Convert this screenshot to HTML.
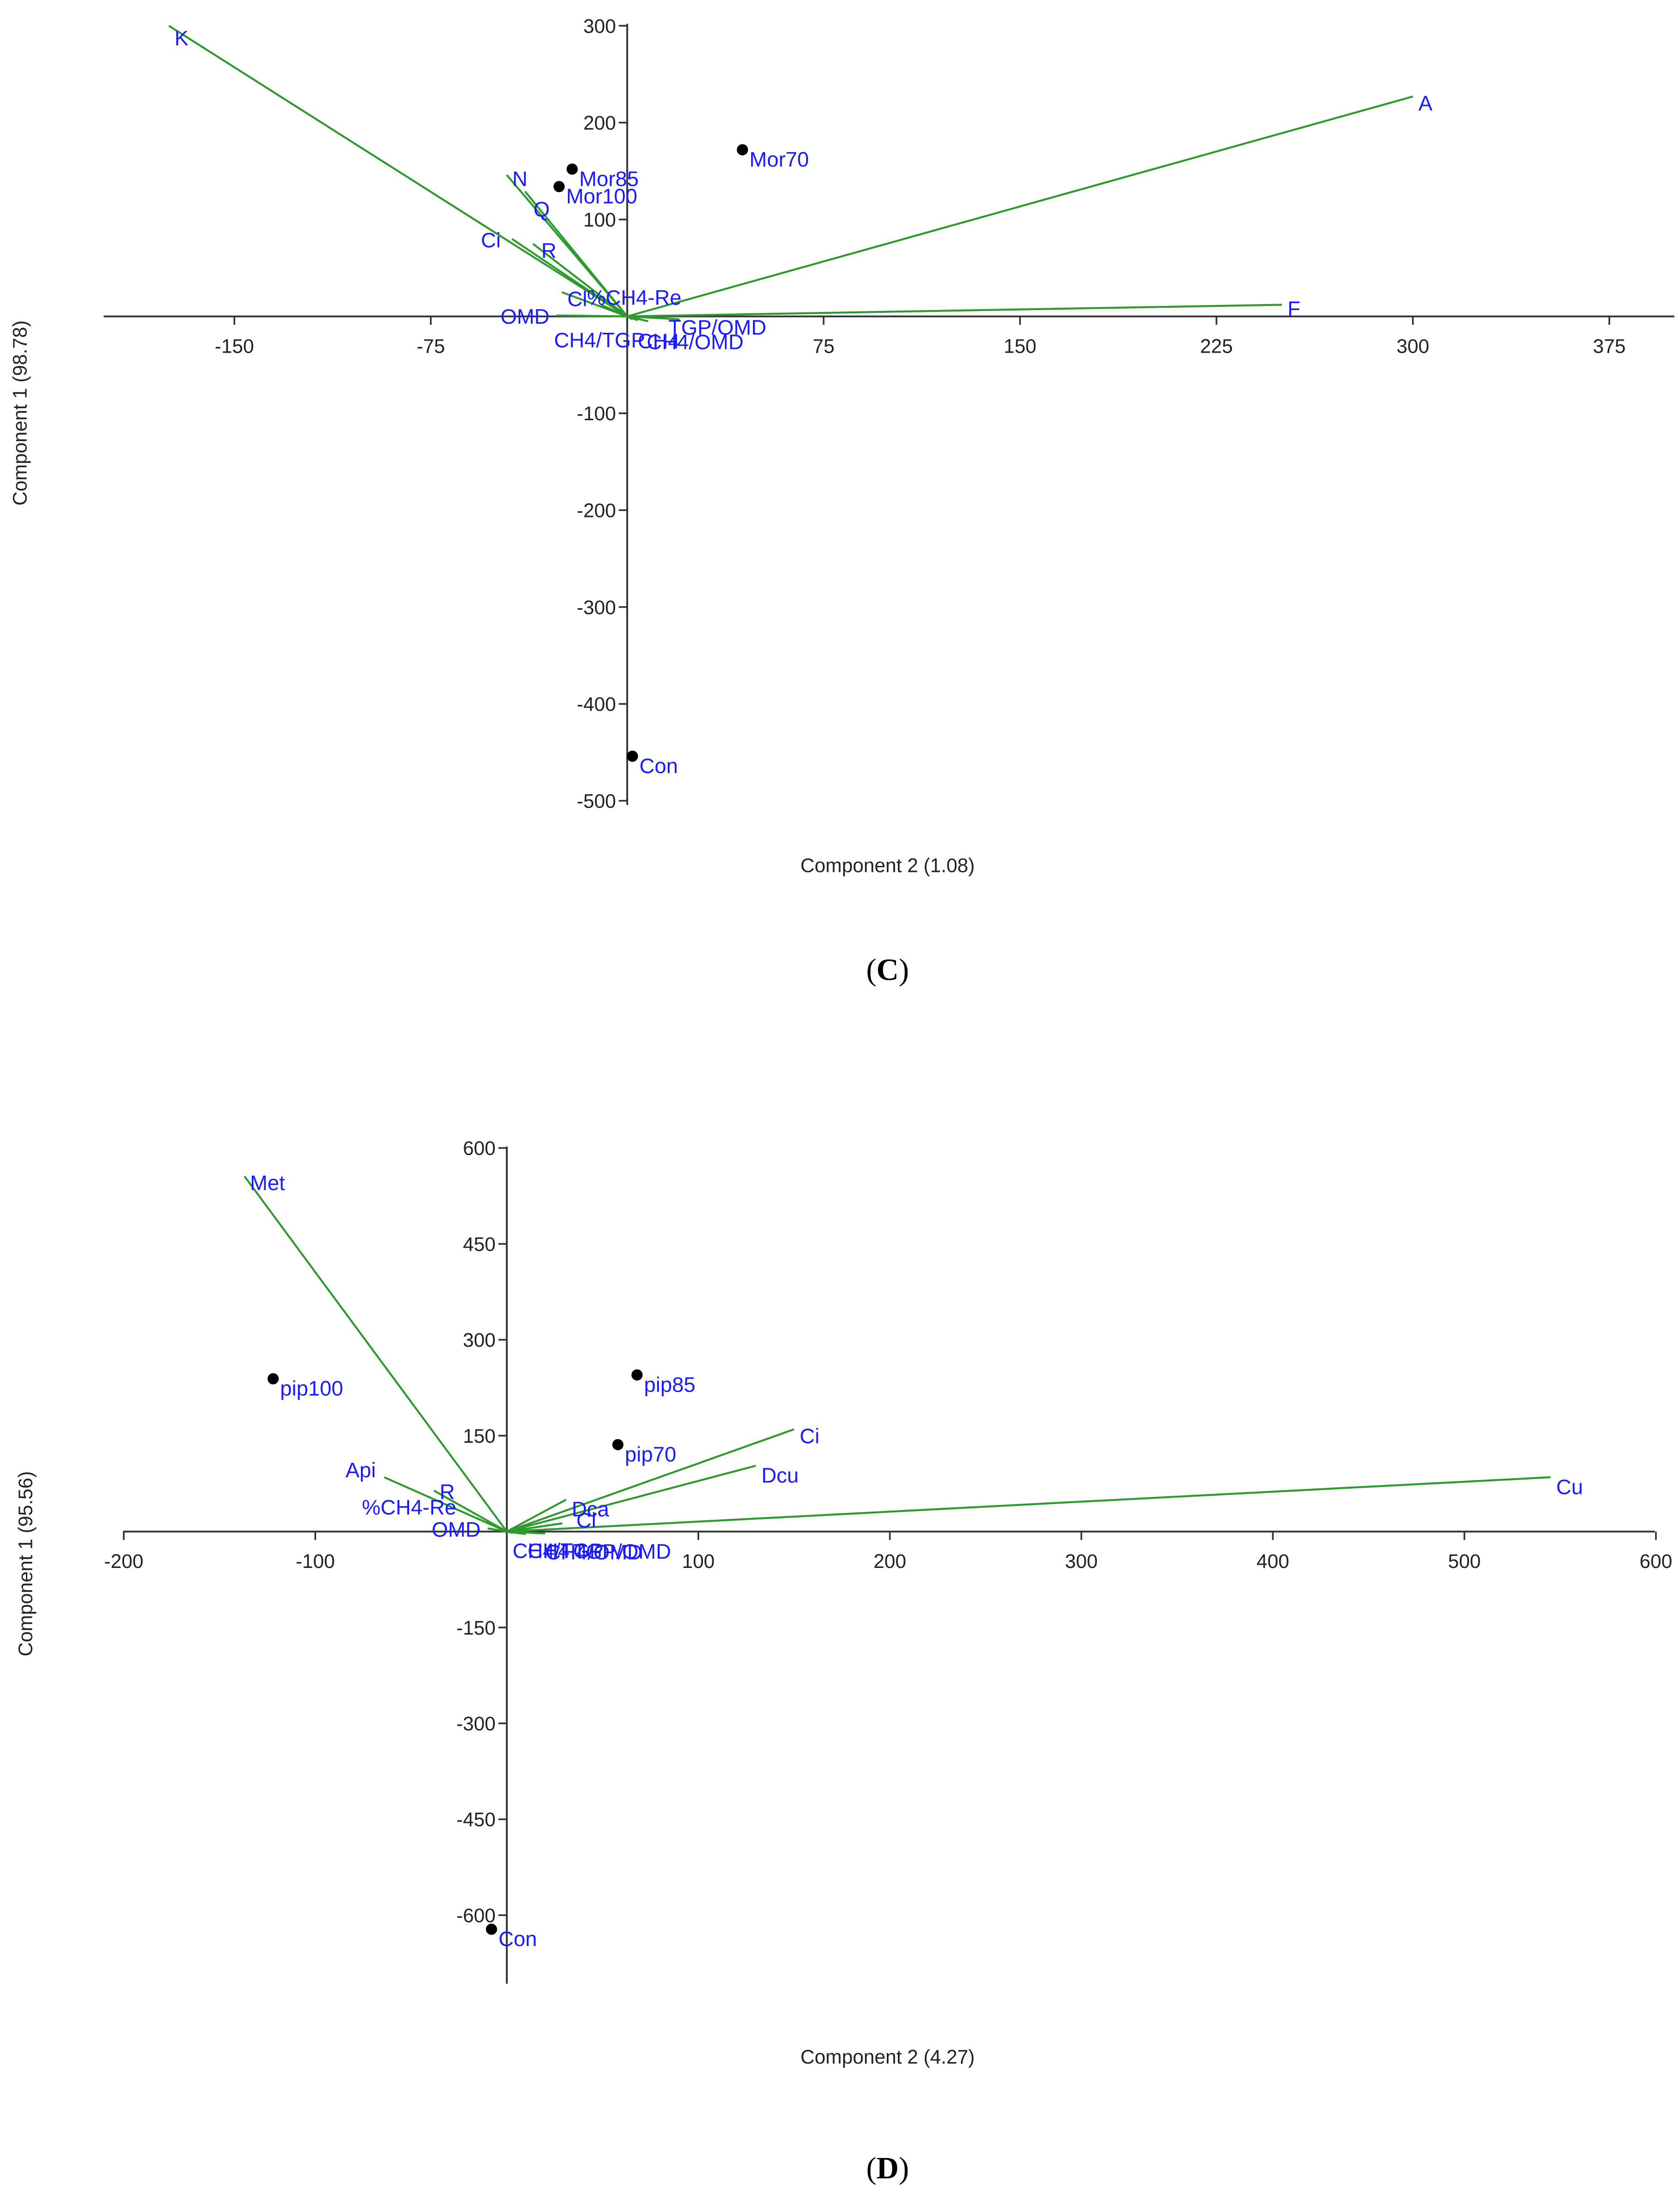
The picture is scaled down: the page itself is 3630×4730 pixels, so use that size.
<!DOCTYPE html>
<html><head><meta charset="utf-8"><style>
html,body{margin:0;padding:0;background:#fff;}
svg{display:block;}
text{font-family:"Liberation Sans",sans-serif;}
</style></head>
<body>
<svg id="fig" width="3630" height="4730" viewBox="0 0 1200 1563.6" preserveAspectRatio="none" xmlns="http://www.w3.org/2000/svg">
<g id="chartC"></g>
<g id="chartD"></g>
<text x="634" y="700" text-anchor="middle" font-size="22" style="font-family:'Liberation Serif',serif">(<tspan font-weight="bold">C</tspan>)</text>
<text x="634" y="1556" text-anchor="middle" font-size="22" style="font-family:'Liberation Serif',serif">(<tspan font-weight="bold">D</tspan>)</text>
</svg>
<script>
// ---- Chart C data ----
const cXTicks = [-150, -75, 75, 150, 225, 300, 375];
const cYTicks = [300, 200, 100, -100, -200, -300, -400, -500];
const cVarNames = ["K", "A", "F", "N", "Q", "Ci", "R", "Cl", "%CH4-Re", "OMD", "TGP/OMD", "CH4/OMD", "CH4/TGP", "CH4"];
const cVarX = [-175, 300, 250, -46, -39, -44, -36, -25, -10, -27, 20, 8, 2, 4];
const cVarY = [300, 227, 12, 146, 129, 80, 75, 25, 12, 1, -3, -5, -3, -4];
const cObsNames = ["Mor70", "Mor85", "Mor100", "Con"];
const cObsX = [44, -21, -26, 2];
const cObsY = [172, 152, 134, -454];
// ---- Chart D data ----
const dXTicks = [-200, -100, 100, 200, 300, 400, 500, 600];
const dYTicks = [600, 450, 300, 150, -150, -300, -450, -600];
const dVarNames = ["Met", "Api", "R", "%CH4-Re", "OMD", "Ci", "Dcu", "Cu", "Dca", "Cl", "CH4/TGP", "TGP/OMD", "CH4", "CH4/OMD"];
const dVarX = [-137, -64, -38, -15, -10, 150, 130, 545, 31, 29, 3, 20, 5, 10];
const dVarY = [556, 85, 64, 20, 5, 160, 103, 85, 50, 13, -2, -3, -2, -4];
const dObsNames = ["pip100", "pip85", "pip70", "Con"];
const dObsX = [-122, 68, 58, -8];
const dObsY = [239, 245, 136, -622];

// label placement (style, not data): [dx, dy, anchor] per loading label
const cLabelPos = [[4,14,"start"],[4,10,"start"],[4,8,"start"],[4,8,"start"],[6,18,"start"],[-8,6,"end"],[6,10,"start"],[4,10,"start"],[-10,0,"start"],[-5,6,"end"],[-8,11,"start"],[-1,20,"start"],[-56,20,"start"],[0,20,"start"]];
const dLabelPos = [[4,10,"start"],[-6,0,"end"],[4,6,"start"],[-83,-3,"start"],[-5,6,"end"],[4,10,"start"],[4,12,"start"],[4,12,"start"],[4,12,"start"],[10,3,"start"],[0,18,"start"],[20,18,"start"],[8,18,"start"],[14,18,"start"]];

const NS = "http://www.w3.org/2000/svg";
function mk(parent, tag, attrs, txt){
  const e = document.createElementNS(NS, tag);
  for (const k in attrs) e.setAttribute(k, attrs[k]);
  if (txt !== undefined) e.textContent = txt;
  parent.appendChild(e);
  return e;
}
function draw(g, cfg){
  const sx = v => cfg.ox + v * cfg.kx;
  const sy = v => cfg.oy - v * cfg.ky;
  const xa = mk(g, "line", {x1: cfg.xMin, y1: cfg.oy, x2: cfg.xMax, y2: cfg.oy, stroke: "#333", "stroke-width": 1.3});
  
  
  const ya = mk(g, "line", {x1: cfg.ox, y1: cfg.yMin, x2: cfg.ox, y2: cfg.yMax, stroke: "#333", "stroke-width": 1.3});
  
  
  cfg.xt.forEach(t => {
    const x = sx(t);
    const tk = mk(g, "line", {x1: x, y1: cfg.oy, x2: x, y2: cfg.oy + 6, stroke: "#333", "stroke-width": 1.2});
    
    
    const tl = mk(g, "text", {x: x, y: cfg.oy + 26, "text-anchor": "middle", "font-size": 14, fill: "#222"}, String(t));
    
    
  });
  cfg.yt.forEach(t => {
    const y = sy(t);
    const tk = mk(g, "line", {x1: cfg.ox - 6, y1: y, x2: cfg.ox, y2: y, stroke: "#333", "stroke-width": 1.2});
    
    
    const tl = mk(g, "text", {x: cfg.ox - 8, y: y + 5, "text-anchor": "end", "font-size": 14, fill: "#222"}, String(t));
    
    
  });
  cfg.vn.forEach((n, i) => {
    const x = sx(cfg.vx[i]), y = sy(cfg.vy[i]);
    const l = mk(g, "line", {x1: cfg.ox, y1: cfg.oy, x2: x, y2: y, stroke: "#2e9a2e", "stroke-width": 1.4});
    
    
    const p = cfg.lp[i];
    const t = mk(g, "text", {x: x + p[0], y: y + p[1], "text-anchor": p[2], "font-size": 15, fill: "#1a1aff"}, n);
    
    
  });
  cfg.on.forEach((n, i) => {
    const x = sx(cfg.ox2[i]), y = sy(cfg.oy2[i]);
    const c = mk(g, "circle", {cx: x, cy: y, r: 4, fill: "#000"});
    
    
    const t = mk(g, "text", {x: x + 5, y: y + 12, "font-size": 15, fill: "#1a1aff"}, n);
    
    
  });
  const xt = mk(g, "text", {x: 634, y: cfg.xTitleY, "text-anchor": "middle", "font-size": 14, fill: "#222"}, cfg.xTitle);
  
  
  const yt = mk(g, "text", {x: cfg.yTitleX, y: cfg.yTitleY, "text-anchor": "middle", "font-size": 14, fill: "#222", transform: "rotate(-90 " + cfg.yTitleX + " " + cfg.yTitleY + ")"}, cfg.yTitle);
  
  
}
draw(document.getElementById("chartC"), {
  ox: 448, oy: 226, kx: 140.3/75, ky: 0.692,
  xMin: 74, xMax: 1196, yMin: 17, yMax: 575,
  xt: cXTicks, yt: cYTicks, vn: cVarNames, vx: cVarX, vy: cVarY, lp: cLabelPos,
  on: cObsNames, ox2: cObsX, oy2: cObsY,
  xTitle: "Component 2 (1.08)", xTitleY: 623,
  yTitle: "Component 1 (98.78)", yTitleX: 19, yTitleY: 295
});
draw(document.getElementById("chartD"), {
  ox: 362, oy: 1094, kx: 1.368, ky: 68.5/150,
  xMin: 88, xMax: 1182, yMin: 819, yMax: 1417,
  xt: dXTicks, yt: dYTicks, vn: dVarNames, vx: dVarX, vy: dVarY, lp: dLabelPos,
  on: dObsNames, ox2: dObsX, oy2: dObsY,
  xTitle: "Component 2 (4.27)", xTitleY: 1474,
  yTitle: "Component 1 (95.56)", yTitleX: 23, yTitleY: 1117
});
</script>
</body></html>
